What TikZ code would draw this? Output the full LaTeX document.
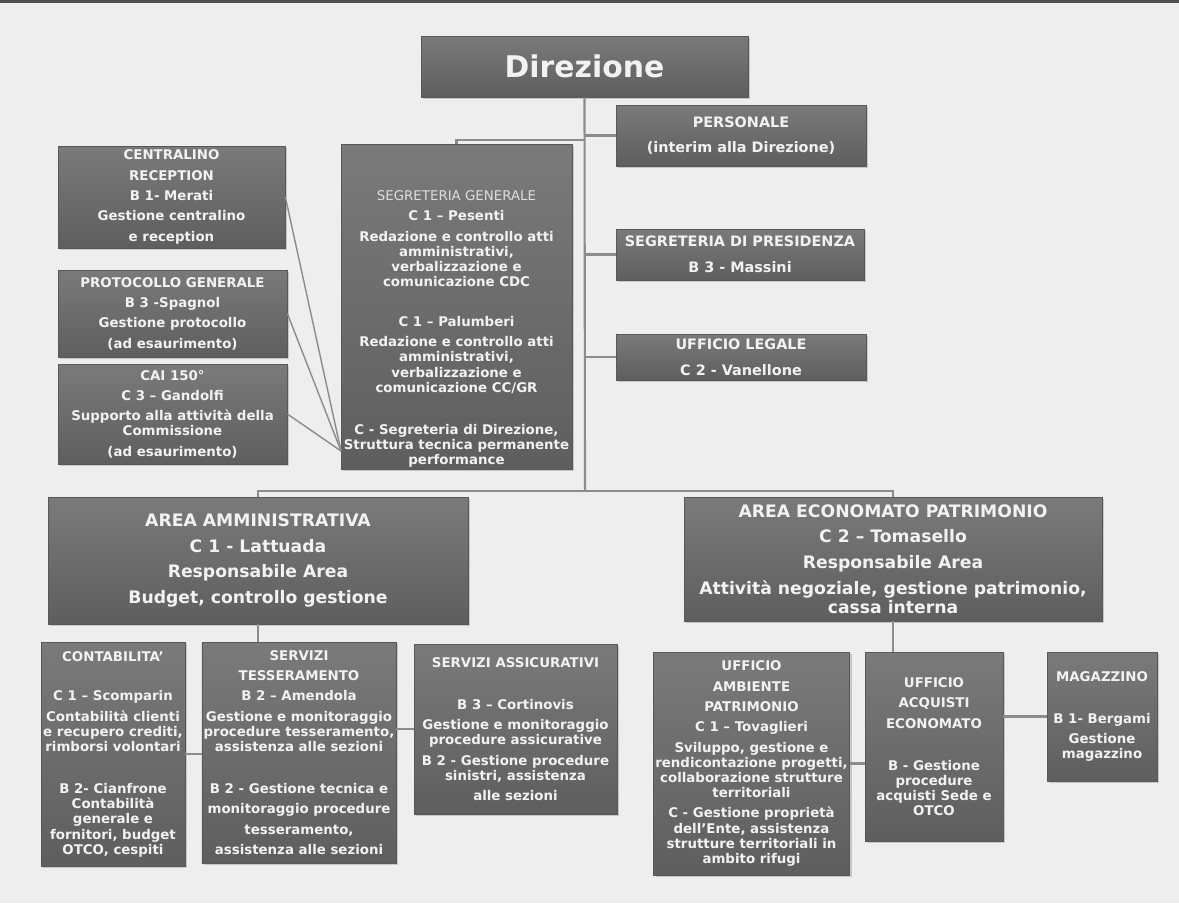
\documentclass[tikz,border=0pt]{standalone}
\usepackage{fontspec}
\setmainfont{DejaVu Sans}
\usepackage{tikz}
\usetikzlibrary{shadows,calc}

\definecolor{sfondo}{RGB}{238,238,238}
\definecolor{bordoalto}{RGB}{80,80,80}
\definecolor{grigioalto}{RGB}{122,122,122}
\definecolor{grigiobasso}{RGB}{94,94,94}
\definecolor{bordo}{RGB}{88,88,88}
\definecolor{testo}{RGB}{242,242,242}
\definecolor{testochiaro}{RGB}{222,222,222}
\definecolor{grigiolinea}{RGB}{140,140,140}

\tikzset{
  casella/.style={rectangle, draw=bordo, line width=0.4pt,
    top color=grigioalto, bottom color=grigiobasso, text=testo,
    align=center, inner sep=1pt,
    font=\bfseries\fontsize{7.6}{8.6}\selectfont,
    drop shadow={shadow xshift=1.2pt, shadow yshift=-1.2pt, opacity=0.35}},
  medio/.style={font=\bfseries\fontsize{8.2}{14.6}\selectfont},
  grande/.style={font=\bfseries\fontsize{9.8}{14.6}\selectfont},
  misura/.style 2 args={minimum width=#1*0.02cm, minimum height=#2*0.02cm},
  linea/.style={draw=grigiolinea, line width=1.2pt},
}

\begin{document}
\begin{tikzpicture}[x=0.02cm, y=-0.02cm]
\fill[sfondo] (0,0) rectangle (1179,903);
\fill[bordoalto] (0,0) rectangle (1179,3);
\useasboundingbox (0,0) rectangle (1179,903);

% vertice
\node[casella, misura={327}{61}, font=\bfseries\fontsize{17}{20}\selectfont] (dir) at (584.5,66.5) {Direzione};

% staff a destra
\node[casella, medio, misura={250}{61}] (pers) at (741,135.5) {PERSONALE\\(interim alla Direzione)};
\node[casella, medio, misura={248}{51}] (segpres) at (740,254.5) {SEGRETERIA DI PRESIDENZA\\B 3 - Massini};
\node[casella, medio, misura={250}{46}] (legale) at (741,357) {UFFICIO LEGALE\\C 2 - Vanellone};

% segreteria generale
\node[casella, misura={231}{323}] (seggen) at (456.5,306.5) {\rule{0pt}{31pt}{\mdseries\color{testochiaro}SEGRETERIA GENERALE}\\[3pt]
  C 1 – Pesenti\\[3pt]
  Redazione e controllo atti\\amministrativi,\\verbalizzazione e\\comunicazione CDC\\[14.2pt]
  C 1 – Palumberi\\[3pt]
  Redazione e controllo atti\\amministrativi,\\verbalizzazione e\\comunicazione CC/GR\\[15.3pt]
  C - Segreteria di Direzione,\\Struttura tecnica permanente\\performance};

% uffici a sinistra
\node[casella, misura={227}{102}] (centr) at (171.5,197) {CENTRALINO\\[3pt]RECEPTION\\[3pt]B 1- Merati\\[3pt]Gestione centralino\\[3pt]e reception};
\node[casella, misura={229}{87}] (proto) at (172.5,313.5) {PROTOCOLLO GENERALE\\[3pt]B 3 -Spagnol\\[3pt]Gestione protocollo\\[3pt](ad esaurimento)};
\node[casella, misura={229}{100}] (cai) at (172.5,414) {CAI 150°\\[3pt]C 3 – Gandolfi\\[3pt]Supporto alla attività della\\Commissione\\[3pt](ad esaurimento)};

% aree
\node[casella, grande, misura={420}{127}] (amm) at (258,560.5) {AREA AMMINISTRATIVA\\C 1 - Lattuada\\Responsabile Area\\Budget, controllo gestione};
\node[casella, grande, misura={418}{124}] (econ) at (893,559) {AREA ECONOMATO PATRIMONIO\\C 2 – Tomasello\\Responsabile Area\\Attività negoziale, gestione patrimonio,\\[-3.8pt]cassa interna};

% uffici area amministrativa
\node[casella, misura={144}{224}] (contab) at (113,754) {CONTABILITA’\\[14pt]C 1 – Scomparin\\[3pt]Contabilità clienti\\e recupero crediti,\\rimborsi volontari\\[15.5pt]
  B 2- Cianfrone\\Contabilità\\generale e\\fornitori, budget\\OTCO, cespiti};
\node[casella, misura={192}{221}] (tess) at (299,752.5) {SERVIZI\\[3pt]TESSERAMENTO\\[3pt]B 2 – Amendola\\[3pt]Gestione e monitoraggio\\procedure tesseramento,\\assistenza alle sezioni\\[15.3pt]
  B 2 - Gestione tecnica e\\[3pt]monitoraggio procedure\\[3pt]tesseramento,\\[3pt]assistenza alle sezioni};
\node[casella, misura={203}{170}] (assic) at (515.5,729) {SERVIZI ASSICURATIVI\\[15.3pt]B 3 – Cortinovis\\[3pt]Gestione e monitoraggio\\procedure assicurative\\[3pt]
  B 2 - Gestione procedure\\sinistri, assistenza\\[3pt]alle sezioni};

% uffici area economato
\node[casella, misura={195}{223}] (amb) at (751.5,763.5) {UFFICIO\\[3pt]AMBIENTE\\[3pt]PATRIMONIO\\[3pt]C 1 – Tovaglieri\\[3pt]Sviluppo, gestione e\\rendicontazione progetti,\\collaborazione strutture\\territoriali\\[3pt]
  C - Gestione proprietà\\dell’Ente, assistenza\\strutture territoriali in\\ambito rifugi};
\node[casella, misura={138}{189}] (acq) at (934,746.5) {UFFICIO\\[3pt]ACQUISTI\\[3pt]ECONOMATO\\[15.3pt]B - Gestione\\procedure\\acquisti Sede e\\OTCO};
\node[casella, misura={110}{129}] (mag) at (1102,716.5) {MAGAZZINO\\[15.3pt]B 1- Bergami\\[3pt]Gestione\\magazzino};

% collegamenti
\coordinate (nodoSeg) at (585,140);
\coordinate (nodoAree) at (585,491);
\coordinate (attacco) at (341,451);
\draw[linea] (dir.south) -- (nodoAree);
\draw[linea] (pers.west) -- (pers.west -| dir.south);
\draw[linea] (segpres.west) -- (segpres.west -| dir.south);
\draw[linea] (legale.west) -- (legale.west -| dir.south);
\draw[linea] (nodoSeg) -| (seggen.north);
\draw[linea] (nodoAree) -| (amm.north);
\draw[linea] (nodoAree) -| (econ.north);
\draw[linea, line width=0.8pt] (centr.east) -- (attacco);
\draw[linea, line width=0.8pt] (proto.east) -- (attacco);
\draw[linea, line width=0.8pt] (cai.east) -- (attacco);
\draw[linea] (amm.south) -- (amm.south |- tess.north);
\draw[linea] (contab.east) -- (contab.east -| tess.west);
\draw[linea] (assic.west) -- (assic.west -| tess.east);
\draw[linea] (econ.south) -- (econ.south |- acq.north);
\draw[linea] (amb.east) -- (amb.east -| acq.west);
\draw[linea] (mag.west) -- (mag.west -| acq.east);
\end{tikzpicture}
\end{document}
